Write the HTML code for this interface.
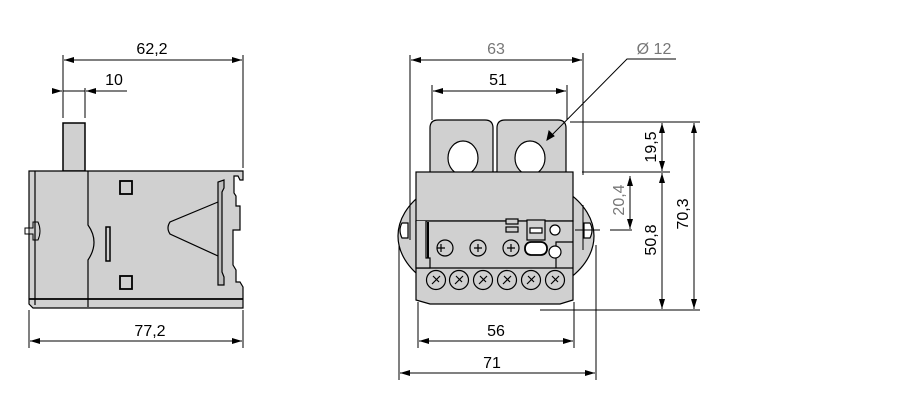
<!DOCTYPE html>
<html><head><style>body{margin:0;background:#fff}svg{display:block}text{font-family:"Liberation Sans",Arial,sans-serif;font-size:16px}</style></head>
<body>
<svg width="900" height="417" viewBox="0 0 900 417" xmlns="http://www.w3.org/2000/svg">
<defs>
<marker id="a" viewBox="0 0 10 6" refX="10" refY="3" markerWidth="10" markerHeight="6" orient="auto-start-reverse" markerUnits="userSpaceOnUse"><path d="M0,0L10,3L0,6z" fill="#000"/></marker>
</defs>
<g stroke="#000" stroke-width="1" fill="none">
<line x1="63" y1="55" x2="63" y2="118"/><line x1="243" y1="55" x2="243" y2="168"/>
<line x1="64" y1="60" x2="242" y2="60" marker-start="url(#a)" marker-end="url(#a)"/>
<line x1="85" y1="88" x2="85" y2="118"/>
<line x1="53" y1="91" x2="62" y2="91" marker-end="url(#a)"/><line x1="127" y1="91" x2="86" y2="91" marker-end="url(#a)"/><line x1="63" y1="91" x2="85" y2="91"/>
<line x1="29" y1="310" x2="29" y2="348"/><line x1="243" y1="310" x2="243" y2="348"/>
<line x1="30" y1="341" x2="242" y2="341" marker-start="url(#a)" marker-end="url(#a)"/>
</g>
<g stroke="#000" stroke-width="1.5" fill="#d0d0d0">
<rect x="63" y="123" width="22" height="48"/>
<path d="M29,171 H243 V180 H240 L238,176 H234 V193 L236,196 V206 H240 V230 H233 V265 L236,270 V282 H240 L243,287 V308 H33 L29,304 Z" stroke-width="1.2"/>
<path d="M29,228 H33 V222 H38 Q42,231 38,240 H33 V234 H29" stroke-width="1"/>
<rect x="25" y="228" width="4" height="6" fill="#fff" stroke-width="1"/>
</g>
<g stroke="#000" fill="none" stroke-width="1.2">
<line x1="35" y1="171" x2="35" y2="305"/>
<line x1="29" y1="299" x2="243" y2="299" stroke-width="1.8"/>
<path d="M88,171 V225 Q100,242 88,260 V307"/>
<rect x="120" y="181" width="12" height="13" stroke-width="1.8"/>
<rect x="120" y="276" width="12" height="13" stroke-width="1.8"/>
<rect x="106" y="227" width="4" height="34" stroke-width="1.5"/>
<path d="M218,202 L170,222 Q166,228 170,234 L218,256"/>
<path d="M218,182 V285 H224 V277 L222,272 V192 L224,188 V180 Z" fill="#bdbdbd"/>
</g>
<g stroke="#000" stroke-width="1.2">
<ellipse cx="496" cy="236" rx="98" ry="64" fill="#d0d0d0"/>
<path d="M430,175 V128 Q430,120 438,120 H485 Q493,120 493,128 V175 Z" fill="#d0d0d0"/>
<path d="M497,175 V128 Q497,120 505,120 H558 Q566,120 566,128 V175 Z" fill="#d0d0d0"/>
<ellipse cx="463" cy="158" rx="15" ry="17" fill="#fff"/>
<ellipse cx="530" cy="158" rx="15" ry="17" fill="#fff"/>
<rect x="416" y="172" width="157" height="49" fill="#d0d0d0"/>
<path d="M416,221 H573 V300 L560,304 H430 L416,300 Z" fill="#d0d0d0"/>
<line x1="416" y1="268" x2="573" y2="268"/>
<path d="M416,221 V268 H430 V258 H426 V221" fill="#d0d0d0"/>
<line x1="428" y1="222" x2="428" y2="258" stroke-width="2"/>
<path d="M402,223 H408 V238 H402 Q398,230 402,223Z" fill="#fff"/>
<path d="M590,223 H584 V238 H590 Q594,230 590,223Z" fill="#fff"/>
<path d="M556,268 V242 H573" fill="none"/>
<rect x="506" y="219" width="12" height="5" fill="#d0d0d0"/><rect x="506" y="227" width="12" height="5" fill="#d0d0d0"/>
<rect x="527" y="220" width="18" height="20" fill="#d0d0d0"/><rect x="530" y="228" width="12" height="5" fill="#fff"/>
<circle cx="555" cy="230" r="5" fill="#fff"/><circle cx="555" cy="252" r="6" fill="#fff"/>
<rect x="525" y="242" width="22" height="13" rx="6" fill="#fff" stroke-width="1.8"/>
<g fill="#d0d0d0"><circle cx="445" cy="248" r="8"/><circle cx="478" cy="248" r="8"/><circle cx="511" cy="248" r="8"/></g>
<g fill="#d0d0d0"><circle cx="436" cy="280" r="9.5"/><circle cx="459" cy="280" r="9.5"/><circle cx="483" cy="280" r="9.5"/><circle cx="507" cy="280" r="9.5"/><circle cx="531" cy="280" r="9.5"/><circle cx="555" cy="280" r="9.5"/></g>
</g>
<g stroke="#000" stroke-width="1.2" fill="none">
<path d="M441,244 v8 M437,248 h8 M474,248 h8 M478,244 v8 M507,248 h8 M511,244 v8"/>
<path d="M432,284 l8,-8 M455,284 l8,-8 M479,284 l8,-8 M503,284 l8,-8 M527,284 l8,-8 M551,284 l8,-8"/>
<path d="M433,276 l6,6 M456,276 l6,6 M480,276 l6,6 M504,276 l6,6 M528,276 l6,6 M552,276 l6,6"/>
</g>
<g stroke="#000" stroke-width="1" fill="none">
<line x1="410" y1="55" x2="410" y2="240"/><line x1="583" y1="53" x2="583" y2="175"/><line x1="583" y1="205" x2="583" y2="250"/>
<line x1="411" y1="60" x2="582" y2="60" marker-start="url(#a)" marker-end="url(#a)"/>
<line x1="432" y1="85" x2="432" y2="120"/><line x1="567" y1="85" x2="567" y2="120"/>
<line x1="433" y1="91" x2="566" y2="91" marker-start="url(#a)" marker-end="url(#a)"/>
<polyline points="676,59 627,59 547,140"/>
<path d="M547,140 l2,-9 l5,5 z" fill="#000"/>
<line x1="570" y1="122" x2="700" y2="122"/>
<line x1="582" y1="172" x2="670" y2="172"/>
<line x1="575" y1="230" x2="600" y2="230"/><line x1="610" y1="230" x2="632" y2="230"/>
<line x1="540" y1="310" x2="700" y2="310"/>
<line x1="662" y1="123" x2="662" y2="171" marker-start="url(#a)" marker-end="url(#a)"/>
<line x1="662" y1="173" x2="662" y2="309" marker-start="url(#a)" marker-end="url(#a)"/>
<line x1="694" y1="123" x2="694" y2="309" marker-start="url(#a)" marker-end="url(#a)"/>
<line x1="630" y1="176" x2="630" y2="229" marker-start="url(#a)" marker-end="url(#a)"/>
<line x1="418" y1="302" x2="418" y2="348"/><line x1="574" y1="302" x2="574" y2="348"/>
<line x1="419" y1="341" x2="573" y2="341" marker-start="url(#a)" marker-end="url(#a)"/>
<line x1="399" y1="245" x2="399" y2="380"/><line x1="596" y1="245" x2="596" y2="380"/>
<line x1="400" y1="373" x2="595" y2="373" marker-start="url(#a)" marker-end="url(#a)"/>
</g>
<g fill="#000" text-anchor="middle">
<text x="152" y="54">62,2</text>
<text x="114" y="85">10</text>
<text x="150" y="336">77,2</text>
<text x="496" y="54" fill="#777">63</text>
<text x="498" y="85">51</text>
<text x="654" y="54" fill="#777">Ø 12</text>
<text x="496" y="336">56</text>
<text x="492" y="368">71</text>
<text transform="translate(656,147) rotate(-90)">19,5</text>
<text transform="translate(656,240) rotate(-90)">50,8</text>
<text transform="translate(688,214) rotate(-90)">70,3</text>
<text transform="translate(624,200) rotate(-90)" fill="#777">20,4</text>
</g>
</svg>
</body></html>
